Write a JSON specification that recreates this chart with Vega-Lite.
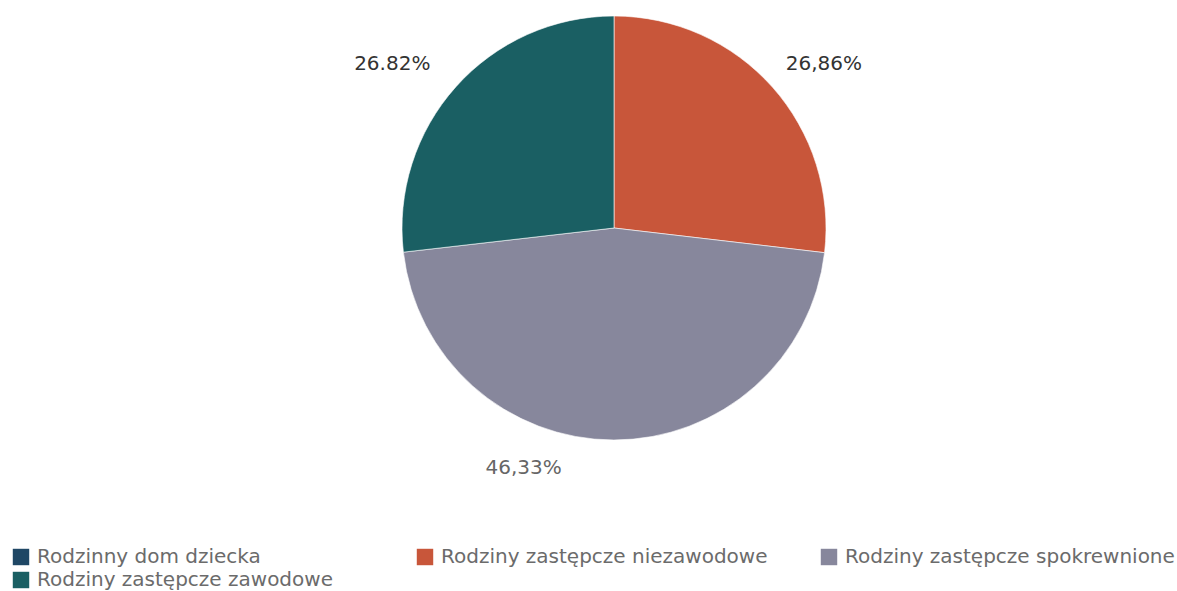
{
  "$schema": "https://vega.github.io/schema/vega-lite/v6.json",
  "width": 450,
  "height": 440,
  "autosize": {"type": "none"},
  "padding": {"left": 389, "top": 8, "right": 338, "bottom": 143},
  "background": "white",
  "data": {
    "values": [
      {"kategoria": "Rodzinny dom dziecka", "udzial": 0, "etykieta": "", "kolejnosc": 1},
      {"kategoria": "Rodziny zastępcze niezawodowe", "udzial": 26.86, "etykieta": "26,86%", "kolejnosc": 2},
      {"kategoria": "Rodziny zastępcze spokrewnione", "udzial": 46.33, "etykieta": "46,33%", "kolejnosc": 3},
      {"kategoria": "Rodziny zastępcze zawodowe", "udzial": 26.82, "etykieta": "26.82%", "kolejnosc": 4}
    ]
  },
  "encoding": {
    "theta": {"field": "udzial", "type": "quantitative", "stack": true},
    "order": {"field": "kolejnosc", "type": "quantitative"}
  },
  "layer": [
    {
      "mark": {"type": "arc", "radius": 212, "stroke": "white", "strokeWidth": 0.6},
      "encoding": {
        "color": {
          "field": "kategoria",
          "type": "nominal",
          "scale": {
            "domain": ["Rodzinny dom dziecka", "Rodziny zastępcze niezawodowe", "Rodziny zastępcze spokrewnione", "Rodziny zastępcze zawodowe"],
            "range": ["#1f4765", "#c8563a", "#87879c", "#1a5f63"]
          },
          "legend": {
            "title": null,
            "orient": "none",
            "legendX": -378,
            "legendY": 539,
            "direction": "horizontal",
            "columns": 3,
            "gridAlign": "all",
            "columnPadding": 48,
            "rowPadding": 3,
            "symbolType": "square",
            "symbolSize": 270,
            "symbolStrokeWidth": 0,
            "labelFont": "DejaVu Sans",
            "labelFontSize": 20,
            "labelColor": "#6b6b6b",
            "labelLimit": 400,
            "labelOffset": 6
          }
        }
      }
    },
    {
      "mark": {"type": "text", "radius": 246, "align": "left", "dx": -12, "font": "DejaVu Sans", "fontSize": 20, "color": "#333333"},
      "encoding": {"text": {"condition": {"test": "datum.kolejnosc == 2", "field": "etykieta"}, "value": ""}}
    },
    {
      "mark": {"type": "text", "radius": 246, "align": "right", "font": "DejaVu Sans", "fontSize": 20, "color": "#333333"},
      "encoding": {"text": {"condition": {"test": "datum.kolejnosc == 4", "field": "etykieta"}, "value": ""}}
    },
    {
      "mark": {"type": "text", "radius": 240, "align": "right", "dx": -52, "font": "DejaVu Sans", "fontSize": 20, "color": "#666666"},
      "encoding": {"text": {"condition": {"test": "datum.kolejnosc == 3", "field": "etykieta"}, "value": ""}}
    }
  ]
}
